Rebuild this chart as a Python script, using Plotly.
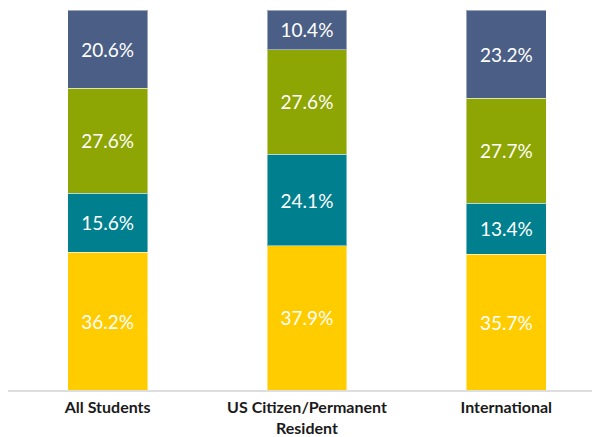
import plotly.graph_objects as go

categories = ["All Students", "US Citizen/Permanent<br>Resident", "International"]
series_names = ["Segment 1", "Segment 2", "Segment 3", "Segment 4"]
seg1 = [36.2, 37.9, 35.7]
seg2 = [15.6, 24.1, 13.4]
seg3 = [27.6, 27.6, 27.7]
seg4 = [20.6, 10.4, 23.2]
colors = ["#FFCC00", "#00808F", "#8EA603", "#4B5F86"]

fig = go.Figure()
for name, vals, col in zip(series_names, [seg1, seg2, seg3, seg4], colors):
    fig.add_trace(go.Bar(
        x=categories, y=vals, name=name,
        marker=dict(color=col, line=dict(color="rgba(255,255,255,0.45)", width=1)),
        width=0.4,
        text=[f"{v:.1f}%" for v in vals],
        textposition="inside", insidetextanchor="middle",
        textfont=dict(family="Lato", size=19, color="white"),
        textangle=0,
        hoverinfo="skip",
    ))

fig.update_layout(
    barmode="stack",
    width=592, height=437,
    margin=dict(l=8, r=0, t=10, b=47),
    paper_bgcolor="white", plot_bgcolor="white",
    showlegend=False,
    xaxis=dict(
        range=[-0.5, 2.43],
        automargin=False,
        showline=True, linecolor="#DEDEDE", linewidth=2,
        showgrid=False, ticks="",
        ticklabelstandoff=2,
        tickfont=dict(family="Lato", size=16, color="#1a1a1a", weight="bold"),
    ),
    yaxis=dict(range=[0, 100], visible=False, showgrid=False),
    uniformtext=dict(minsize=19, mode="show"),
)

fig.write_html("out.html")
